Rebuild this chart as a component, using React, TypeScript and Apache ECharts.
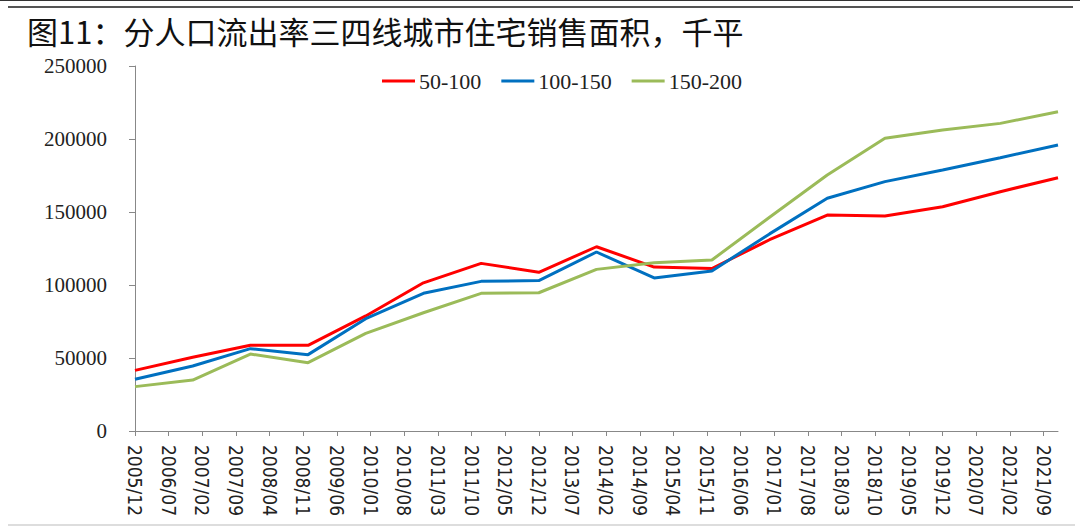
import React, { useEffect, useRef } from "react";
import * as echarts from "echarts";

const TITLE = "图11：分人口流出率三四线城市住宅销售面积，千平";
const YEARS = [2005, 2006, 2007, 2008, 2009, 2010, 2011, 2012, 2013, 2014, 2015, 2016, 2017, 2018, 2019, 2020, 2021];
const SERIES_NAMES = ["50-100", "100-150", "150-200"];
const S50_100 = [41500, 50500, 58700, 58700, 78800, 101500, 114800, 108700, 126200, 112300, 111300, 131000, 147900, 147300, 153600, 163900, 173500];
const S100_150 = [35400, 44500, 56400, 52300, 76900, 94300, 102500, 103000, 122600, 104800, 109600, 135000, 159400, 170800, 178800, 187200, 195900];
const S150_200 = [30400, 34900, 52700, 46800, 66900, 81000, 94300, 94700, 110700, 115200, 117100, 146400, 175300, 200500, 206200, 210700, 218700];
const COLORS = ["#FF0000", "#0070C0", "#9BBB59"];
const Y_MIN = 0;
const Y_MAX = 250000;
const Y_STEP = 50000;

function buildMonths(): string[] {
  const out: string[] = [];
  let y = 2005;
  let m = 12;
  while (y < 2021 || (y === 2021 && m <= 12)) {
    out.push(`${y}/${m < 10 ? "0" + m : m}`);
    m++;
    if (m > 12) {
      m = 1;
      y++;
    }
  }
  return out;
}

export default function App() {
  const ref = useRef<HTMLDivElement>(null);
  useEffect(() => {
    if (!ref.current) return;
    const chart = echarts.init(ref.current, null, { renderer: "svg" });
    const months = buildMonths();
    const toMonthly = (vals: number[]) => {
      const arr: (number | null)[] = months.map(() => null);
      YEARS.forEach((yr, i) => {
        const idx = months.indexOf(`${yr}/12`);
        if (idx >= 0) arr[idx] = vals[i];
      });
      return arr;
    };
    const all = [S50_100, S100_150, S150_200];
    const serif = "'Liberation Serif', 'Times New Roman', serif";
    chart.setOption({
      animation: false,
      backgroundColor: "#ffffff",
      title: {
        text: TITLE,
        left: 27,
        top: 10,
        padding: 0,
        textStyle: {
          fontFamily: "'Noto Sans CJK SC', sans-serif",
          fontSize: 31,
          lineHeight: 40,
          fontWeight: "normal",
          color: "#111",
        },
      },
      legend: {
        left: 377,
        top: 65,
        itemWidth: 33,
        itemHeight: 3,
        itemGap: 20,
        icon: "rect",
        textStyle: { fontFamily: serif, fontSize: 22, color: "#222", padding: [0, 0, 0, -1] },
        data: SERIES_NAMES,
      },
      grid: { left: 135, right: 22, top: 66, bottom: 95, containLabel: false },
      xAxis: {
        type: "category",
        boundaryGap: false,
        data: months,
        axisLine: { show: true, lineStyle: { color: "#888", width: 1 } },
        axisTick: { show: true, interval: 6, length: 5, lineStyle: { color: "#888" } },
        axisLabel: {
          interval: 6,
          rotate: -90,
          margin: 14,
          fontFamily: "'DejaVu Sans Condensed', 'DejaVu Sans', sans-serif",
          fontSize: 19,
          color: "#222",
        },
        splitLine: { show: false },
      },
      yAxis: {
        type: "value",
        min: Y_MIN,
        max: Y_MAX,
        interval: Y_STEP,
        axisLine: { show: true, lineStyle: { color: "#888", width: 1 } },
        axisTick: { show: true, length: 6, lineStyle: { color: "#888" } },
        axisLabel: {
          margin: 28,
          fontFamily: serif,
          fontSize: 21,
          lineHeight: 22,
          color: "#222",
          formatter: (v: number) => String(v),
        },
        splitLine: { show: false },
      },
      graphic: [
        { type: "line", shape: { x1: 0, y1: 0.5, x2: 1080, y2: 0.5 }, style: { stroke: "#333", lineWidth: 1 } },
        { type: "line", shape: { x1: 8, y1: 7, x2: 1073, y2: 7 }, style: { stroke: "#555", lineWidth: 2 } },
        { type: "line", shape: { x1: 8, y1: 525, x2: 1075, y2: 525 }, style: { stroke: "#bbb", lineWidth: 1 } },
      ],
      series: SERIES_NAMES.map((name, i) => ({
        name,
        type: "line",
        data: toMonthly(all[i]),
        connectNulls: true,
        showSymbol: false,
        symbol: "none",
        lineStyle: { color: COLORS[i], width: 3 },
        itemStyle: { color: COLORS[i] },
      })),
    });
    return () => chart.dispose();
  }, []);
  return (
    <div
      ref={ref}
      style={{ position: "absolute", left: 0, top: 0, width: 1080, height: 526 }}
    />
  );
}
